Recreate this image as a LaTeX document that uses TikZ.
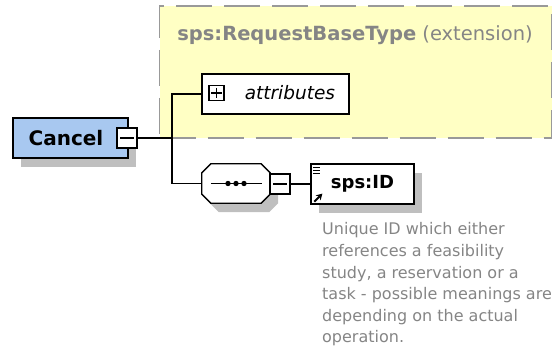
\documentclass[tikz,border=0pt]{standalone}
\usepackage{fontspec}
\setmainfont{DejaVu Sans}
\usetikzlibrary{arrows.meta,positioning,shadows}
\definecolor{extfill}{HTML}{FFFFC4}
\definecolor{elemblue}{HTML}{A8C8F0}
\definecolor{txtgray}{HTML}{858585}

\begin{document}
\begin{tikzpicture}[x=1pt,y=-1pt,
  blk/.style={draw,line width=1.3pt,inner sep=0pt,minimum height=40pt},
  tog/.style={draw,line width=1.1pt,fill=white,inner sep=0pt,minimum size=20pt},
  shd/.style={drop shadow={shadow xshift=8pt,shadow yshift=-9pt,fill=black!25,opacity=1}},
  wire/.style={line width=1.3pt}]
\useasboundingbox (0,0) rectangle (553,350);
% extension frame
\node[draw=black!40,line width=1.5pt,dash pattern=on 36pt off 12pt,fill=extfill,
  minimum width=392pt,minimum height=132pt] (ext) at (355.5,72) {};
\node[text=txtgray,font=\fontsize{19.5}{22}\selectfont] (ttl) at (355,35)
  {\textbf{sps:RequestBaseType} (extension)};
\node[blk,fill=white,minimum width=147pt] (attr) at (275.5,94) {};
\node[draw,line width=1.1pt,minimum size=15pt,inner sep=0pt] (ap) at (216.5,93) {};
\draw[line width=1.1pt] ([xshift=3pt]ap.west) -- ([xshift=-3pt]ap.east);
\draw[line width=1.1pt] ([yshift=-3pt]ap.north) -- ([yshift=3pt]ap.south);
\node[right=20pt of ap,inner sep=0pt,font=\itshape\fontsize{18.5}{22}\selectfont] (attrtxt) {attributes};
% element
\node[blk,fill=elemblue,shd,minimum width=115pt,font=\bfseries\fontsize{20}{22}\selectfont] (cancel) at (70.5,138) {Cancel\hspace*{9pt}};
\node[tog] (cm) at (127,138) {};
\draw[line width=1.1pt] ([xshift=4pt]cm.west) -- ([xshift=-4pt]cm.east);
% sequence
\node[inner sep=0pt,minimum width=68pt,minimum height=39pt] (seq) at (236,183.5) {};
\draw[line width=1.3pt,fill=white,shd] ([xshift=9pt]seq.north west) -- ([xshift=-9pt]seq.north east)
  -- ([yshift=-9pt]seq.north east) -- ([yshift=9pt]seq.south east) -- ([xshift=-9pt]seq.south east)
  -- ([xshift=9pt]seq.south west) -- ([yshift=9pt]seq.south west) -- ([yshift=-9pt]seq.north west) -- cycle;
\draw[wire] ([xshift=9pt]seq.west) -- ([xshift=-8pt]seq.east);
\foreach \dx in {-8,0,8}
  \fill ([xshift=\dx pt]seq.center) circle (2.7);
\node[tog] (sm) at (280,184) {};
\draw[line width=1.1pt] ([xshift=4pt]sm.west) -- ([xshift=-4pt]sm.east);
% child
\node[blk,fill=white,shd,minimum width=103pt,font=\bfseries\fontsize{18}{22}\selectfont] (id) at (362.5,184) {sps:ID};
\foreach \dy in {4,7,10}
  \draw[line width=1.2pt] ([xshift=3pt,yshift=-\dy pt]id.north west) -- +(7,0);
\draw[-{Stealth[length=6pt,width=7pt]},line width=1.8pt] ([xshift=4pt,yshift=3pt]id.south west) -- +(8,-8);
\node[anchor=north west,align=left,inner sep=0pt,text=txtgray,font=\fontsize{16}{21.6}\selectfont] (doc) at (322,222.5)
  {Unique ID which either\\references a feasibility\\study, a reservation or a\\task - possible meanings are\\depending on the actual\\operation.};
% connectors
\coordinate (fork) at (172,138);
\draw[wire] (cm.east) -- (fork);
\draw[wire] (fork) |- (attr.west);
\draw[wire] (fork) |- (seq.west);
\draw[wire] (sm.east) -- (id.west);
\end{tikzpicture}
\end{document}
